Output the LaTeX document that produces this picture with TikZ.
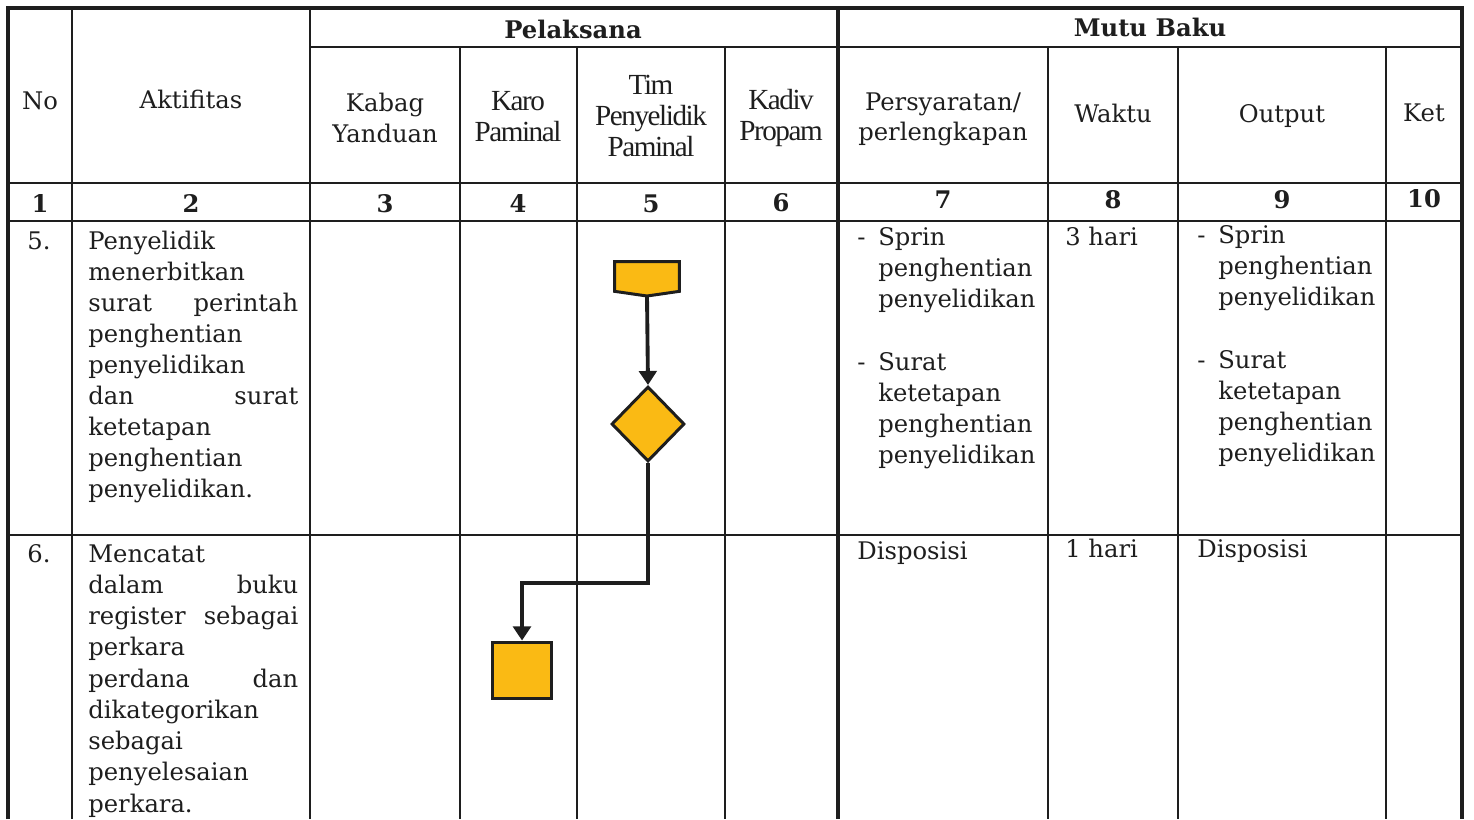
\documentclass[tikz,border=0pt]{standalone}
\usepackage{fontspec}
\newfontfamily\condfont{Liberation Serif}[LetterSpace=-5.0]
\newfontfamily\bk{DejaVu Serif}
\usetikzlibrary{arrows.meta,shapes.geometric}
\definecolor{flowfill}{RGB}{250,186,20}
\definecolor{ink}{RGB}{30,30,30}
\tikzset{
  grid/.style={line width=1pt, draw=ink},
  outer/.style={line width=1.8pt, draw=ink},
  body/.style={font=\bk\fontsize{13.8}{17.7}\selectfont, inner sep=0pt, anchor=base west, text=ink},
  hdr/.style={font=\bk\fontsize{13.8}{17.7}\selectfont, inner sep=0pt, anchor=base, text=ink},
  cond/.style={font=\condfont\fontsize{16.6}{17.7}\selectfont, inner sep=0pt, anchor=base, text=ink},
  num/.style={font=\bk\bfseries\fontsize{13.8}{17.7}\selectfont, inner sep=0pt, anchor=base, text=ink},
  flow/.style={draw=ink, line width=1.7pt, fill=flowfill},
  conn/.style={line width=2.2pt, draw=ink, -{Triangle[width=10pt,length=8pt]}}
}
\begin{document}
\begin{tikzpicture}[x=0.02cm,y=-0.02cm]
\useasboundingbox (0,0) rectangle (1474,819);
% ---------- table grid ----------
\draw[outer] (8,819) -- (8,8) -- (1462,8) -- (1462,819);
\draw[grid] (310,47) -- (1462,47);
\draw[grid] (8,183) -- (1462,183);
\draw[grid] (8,221) -- (1462,221);
\draw[grid] (8,535) -- (1462,535);
\draw[grid] (72,8) -- (72,819);
\draw[grid] (310,8) -- (310,819);
\draw[outer] (838,8) -- (838,819);
\foreach \xx in {460,577,725,1048,1178,1386}{\draw[grid] (\xx,47) -- (\xx,819);}
% ---------- header ----------
\node[num] (pel) at (573,38) {Pelaksana};
\node[num] (mb) at (1150,36) {Mutu Baku};
\node[hdr] (hno) at (40,109) {No};
\node[hdr] (hakt) at (191,108) {Aktifitas};
\node[hdr] (hkab1) at (385,111) {Kabag};
\node[hdr] (hkab2) at (385,142) {Yanduan};
\node[cond] (hkar1) at (518,110) {Karo};
\node[cond] (hkar2) at (518,141) {Paminal};
\node[cond] (htim1) at (651,94) {Tim};
\node[cond] (htim2) at (651,125) {Penyelidik};
\node[cond] (htim3) at (651,156) {Paminal};
\node[cond] (hkad1) at (781,109) {Kadiv};
\node[cond] (hkad2) at (781,140) {Propam};
\node[hdr] (hper1) at (943,110) {Persyaratan/};
\node[hdr] (hper2) at (943,140) {perlengkapan};
\node[hdr] (hwak) at (1113,122) {Waktu};
\node[hdr] (hout) at (1282,122) {Output};
\node[hdr] (hket) at (1424,121) {Ket};
% ---------- numbers ----------
\node[num] (n1) at (40,212) {1};
\node[num] (n2) at (191,212) {2};
\node[num] (n3) at (385,212) {3};
\node[num] (n4) at (518,212) {4};
\node[num] (n5) at (651,212) {5};
\node[num] (n6) at (781,211) {6};
\node[num] (n7) at (943,208) {7};
\node[num] (n8) at (1113,208) {8};
\node[num] (n9) at (1282,208) {9};
\node[num] (n10) at (1424,207) {10};
% ---------- row 5 ----------
\node[body] (r5no) at (27,249) {5.};
\foreach \t [count=\i from 0] in {Penyelidik, menerbitkan, {\makebox[4.2cm][s]{surat perintah}}, penghentian, penyelidikan, {\makebox[4.2cm][s]{dan surat}}, ketetapan, penghentian, penyelidikan.}
  {\node[body] (r5a\i) at (88,249+31.1*\i) {\t};}
\foreach \t/\yy [count=\i] in {-/245, -/370}
  {\node[body] (r5pd\i) at (857,\yy) {\t};}
\foreach \t/\yy [count=\i] in {Sprin/245, penghentian/276, penyelidikan/307, Surat/370, ketetapan/401, penghentian/432, penyelidikan/463}
  {\node[body] (r5p\i) at (878,\yy) {\t};}
\node[body] (r5w) at (1065,245) {3 hari};
\foreach \t/\yy [count=\i] in {-/243, -/368}
  {\node[body] (r5od\i) at (1197,\yy) {\t};}
\foreach \t/\yy [count=\i] in {Sprin/243, penghentian/274, penyelidikan/305, Surat/368, ketetapan/399, penghentian/430, penyelidikan/461}
  {\node[body] (r5o\i) at (1218,\yy) {\t};}
% ---------- row 6 ----------
\node[body] (r6no) at (27,562) {6.};
\foreach \t [count=\i from 0] in {Mencatat, {\makebox[4.2cm][s]{dalam buku}}, {\makebox[4.2cm][s]{register sebagai}}, perkara, {\makebox[4.2cm][s]{perdana dan}}, dikategorikan, sebagai, penyelesaian, perkara.}
  {\node[body] (r6a\i) at (88,562+31.25*\i) {\t};}
\node[body] (r6p) at (857,559) {Disposisi};
\node[body] (r6w) at (1065,557) {1 hari};
\node[body] (r6o) at (1197,557) {Disposisi};
% ---------- flow symbols ----------
\node[minimum width=1.28cm, minimum height=0.58cm, inner sep=0pt] (off) at (647,276.5) {};
\coordinate (offtip) at (647,296);
\draw[flow] (off.north west) -- (off.north east) -- (off.south east) -- (offtip) -- (off.south west) -- cycle;
\node[flow, diamond, aspect=1, minimum width=1.46cm, minimum height=1.5cm, inner sep=0pt] (dia) at (648,424) {};
\node[flow, rectangle, minimum width=1.18cm, minimum height=1.12cm, inner sep=0pt] (box) at (522,670) {};
\coordinate (bend) at (648,583);
\draw[conn] (offtip) -- (dia.north);
\draw[conn] (dia.south) -- (bend) -| (box.north);
\end{tikzpicture}
\end{document}
